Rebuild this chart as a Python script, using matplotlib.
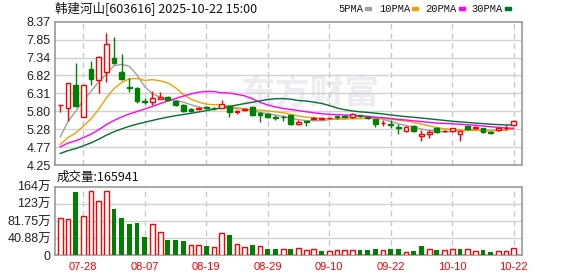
import matplotlib
matplotlib.use("Agg")
import matplotlib.pyplot as plt
from matplotlib.patches import Rectangle
import pandas as pd

plt.rcParams['font.family'] = ['Liberation Sans', 'Noto Sans CJK SC', 'DejaVu Sans']

# daily bars, 2025-07-23 .. 2025-10-22 (prices in yuan, volume in 万手)
dates = ["07-23", "07-24", "07-25", "07-28", "07-29", "07-30", "07-31", "08-01", "08-04", "08-05",
         "08-06", "08-07", "08-08", "08-11", "08-12", "08-13", "08-14", "08-15", "08-18", "08-19",
         "08-20", "08-21", "08-22", "08-25", "08-26", "08-27", "08-28", "08-29", "09-01", "09-02",
         "09-03", "09-04", "09-05", "09-08", "09-09", "09-10", "09-11", "09-12", "09-15", "09-16",
         "09-17", "09-18", "09-19", "09-22", "09-23", "09-24", "09-25", "09-26", "09-29", "09-30",
         "10-09", "10-10", "10-13", "10-14", "10-15", "10-16", "10-17", "10-20", "10-21", "10-22"]
opens = [5.97, 5.88, 6.54, 5.62, 7.01, 6.68, 6.91, 7.32, 6.93, 6.48,
         6.47, 6.09, 6.05, 6.16, 6.21, 6.08, 5.98, 5.87, 5.85, 5.91,
         5.90, 5.90, 5.96, 5.77, 5.84, 5.92, 5.75, 5.72, 5.64, 5.64,
         5.68, 5.44, 5.50, 5.58, 5.57, 5.59, 5.65, 5.66, 5.62, 5.68,
         5.62, 5.57, 5.45, 5.44, 5.34, 5.24, 5.37, 5.09, 5.13, 5.32,
         5.22, 5.23, 5.13, 5.37, 5.32, 5.30, 5.20, 5.26, 5.31, 5.39]
highs = [5.98, 6.62, 7.18, 6.55, 7.24, 7.38, 8.05, 7.94, 7.44, 6.74,
         6.48, 6.18, 6.37, 6.35, 6.22, 6.09, 5.99, 5.88, 5.93, 5.94,
         5.92, 6.13, 5.97, 5.83, 5.90, 5.96, 5.76, 5.74, 5.70, 5.68,
         5.70, 5.53, 5.52, 5.63, 5.62, 5.64, 5.66, 5.68, 5.75, 5.70,
         5.64, 5.58, 5.54, 5.54, 5.42, 5.36, 5.39, 5.25, 5.26, 5.34,
         5.26, 5.32, 5.22, 5.38, 5.36, 5.32, 5.24, 5.34, 5.39, 5.53]
lows = [5.77, 5.52, 5.93, 5.62, 6.55, 6.33, 6.64, 7.15, 6.69, 6.35,
        6.04, 6.01, 5.98, 6.14, 6.10, 5.94, 5.78, 5.77, 5.84, 5.86,
        5.84, 5.90, 5.63, 5.72, 5.79, 5.66, 5.49, 5.61, 5.55, 5.52,
        5.39, 5.39, 5.37, 5.56, 5.56, 5.58, 5.58, 5.59, 5.59, 5.62,
        5.57, 5.33, 5.37, 5.32, 5.13, 5.20, 5.21, 4.94, 5.03, 5.18,
        5.19, 5.20, 4.94, 5.25, 5.29, 5.17, 5.15, 5.22, 5.26, 5.37]
closes = [5.98, 6.62, 5.95, 6.55, 6.72, 7.36, 7.72, 7.19, 6.72, 6.46,
          6.08, 6.06, 6.18, 6.21, 6.12, 5.98, 5.80, 5.81, 5.89, 5.88,
          5.89, 5.99, 5.78, 5.79, 5.85, 5.68, 5.69, 5.63, 5.60, 5.62,
          5.44, 5.48, 5.49, 5.60, 5.59, 5.61, 5.62, 5.63, 5.71, 5.65,
          5.60, 5.42, 5.46, 5.39, 5.31, 5.33, 5.23, 5.15, 5.20, 5.19,
          5.23, 5.30, 5.22, 5.28, 5.33, 5.19, 5.18, 5.31, 5.32, 5.51]
volumes = [88.1, 85.7, 150.8, 93.7, 152.4, 129.4, 152.4, 110.3, 88.9, 74.6,
           77.0, 43.7, 73.8, 54.8, 36.5, 36.5, 34.1, 23.8, 23.8, 22.2,
           19.0, 53.2, 48.4, 26.2, 19.0, 24.6, 21.4, 15.1, 15.1, 14.3,
           16.0, 17.8, 12.4, 15.1, 10.7, 9.8, 12.4, 12.4, 12.4, 13.3,
           13.3, 16.0, 13.3, 16.0, 16.0, 7.1, 10.7, 21.3, 15.1, 11.6,
           13.3, 15.1, 16.0, 15.1, 10.7, 13.3, 8.0, 10.7, 10.7, 16.59]
# sessions before 07-23 (off screen), only needed to warm up the moving averages
prior_closes = [4.15, 4.18, 4.16, 4.20, 4.22, 4.19, 4.21, 4.24, 4.23, 4.22,
                4.45, 4.62, 4.70, 4.75, 4.78, 4.80, 4.76, 4.74, 4.72, 4.68,
                4.65, 4.63, 4.61, 4.60, 4.61, 4.45, 4.49, 4.94, 5.44]

tick_dates = ["07-28", "08-07", "08-19", "08-29", "09-10", "09-22", "10-10", "10-22"]
price_ticks = [4.25, 4.765, 5.28, 5.795, 6.31, 6.825, 7.34, 7.855, 8.37]
price_labels = ["4.25", "4.77", "5.28", "5.80", "6.31", "6.82", "7.34", "7.85", "8.37"]
vol_ticks = [0, 40.875, 81.75, 122.625, 163.5]
vol_labels = ["0", "40.88万", "81.75万", "123万", "164万"]
ma_periods = [5, 10, 20, 30]
ma_colors = ["#a0a0a0", "#f0a000", "#ff00ff", "#006f30"]

RED = "#ff0000"
GREEN = "#008000"
W, H = 578, 276


def fx(px):
    return px / W


def fy(py):
    return 1 - py / H


fig = plt.figure(figsize=(W / 100, H / 100), dpi=100)
ax = fig.add_axes([fx(55), fy(165), fx(522 - 55), (165 - 21.7) / H])
axv = fig.add_axes([fx(55), fy(255.3), fx(522 - 55), (255.3 - 186.7) / H])

n = len(closes)
xs = list(range(n))
tick_pos = [dates.index(d) for d in tick_dates]

# moving averages
full = pd.Series(prior_closes + closes)
for p, c in zip(ma_periods, ma_colors):
    ma = full.rolling(p).mean().iloc[-n:].values
    ax.plot(xs, ma, color=c, lw=1.0, zorder=3)

# candles
bw = 0.62
for i in xs:
    o, h, l, c = opens[i], highs[i], lows[i], closes[i]
    up = c >= o
    col = RED if up else GREEN
    ax.vlines(i, l, h, color=col, lw=1.0, zorder=4)
    bottom = min(o, c)
    height = max(abs(c - o), 0.012)
    ax.add_patch(Rectangle((i - bw / 2, bottom), bw, height,
                           facecolor="white" if up else GREEN,
                           edgecolor=col, lw=1.0, zorder=5))

# volume, coloured by change against previous close
prev = [prior_closes[-1]] + closes[:-1]
for i in xs:
    if closes[i] >= prev[i]:
        axv.bar(i, volumes[i], width=bw, facecolor="white", edgecolor=RED, lw=1.0, zorder=3)
    else:
        axv.bar(i, volumes[i], width=bw, color=GREEN, lw=0, zorder=3)

for a in (ax, axv):
    a.set_xlim(-0.68, 60.08)
    for s in a.spines.values():
        s.set_color("#999999")
        s.set_linewidth(1.2)
    a.tick_params(length=0)
    for t in tick_pos:
        a.axvline(t, color="#c8c8c8", lw=1.0, ls=(0, (4, 3)), zorder=1)
    a.set_xticks(tick_pos)

ax.set_ylim(4.25, 8.37)
ax.set_yticks(price_ticks)
ax.set_yticklabels(price_labels, fontsize=9, color="#222222")
ax.tick_params(axis="y", pad=3)
ax.set_xticklabels([])
for t in price_ticks[1:-1]:
    ax.axhline(t, color="#d2d2d2", lw=1.0, zorder=1)

axv.set_ylim(0, 163.5)
axv.set_yticks(vol_ticks)
axv.set_yticklabels(vol_labels, fontsize=9, color="#222222")
axv.tick_params(axis="y", pad=3)
axv.set_xticklabels(tick_dates, fontsize=8, color=RED)
axv.tick_params(axis="x", pad=5)
for t in vol_ticks[1:-1]:
    axv.axhline(t, color="#d2d2d2", lw=1.0, zorder=1)

# watermark
ax.text(0.546, 0.50, "东方财富", transform=ax.transAxes, fontsize=25,
        fontweight="bold", color="#ececf1", ha="center", va="center", zorder=0,
        family=["Noto Sans CJK SC"])

# header texts
fig.text(fx(55), fy(8.5), "韩建河山[603616] 2025-10-22 15:00", fontsize=9,
         va="center", ha="left", family=["Noto Sans CJK SC"], color="#111111")
fig.text(fx(57), fy(177.5), "成交量:165941", fontsize=9,
         va="center", ha="left", family=["Noto Sans CJK SC"], color="#111111")

# legend
leg_x = [338, 379, 425, 471]
legend_marks = [365, 412, 459, 505]
for x0, xm, p, c in zip(leg_x, legend_marks, ma_periods, ma_colors):
    fig.text(fx(x0), fy(8.5), f"{p}PMA", fontsize=7.5, va="center", ha="left",
             family=["Liberation Mono"], color="#111111")
    fig.add_artist(Rectangle((fx(xm), fy(10)), fx(6), 3 / H, color=c,
                             transform=fig.transFigure))

fig.savefig("out.png", dpi=100)
